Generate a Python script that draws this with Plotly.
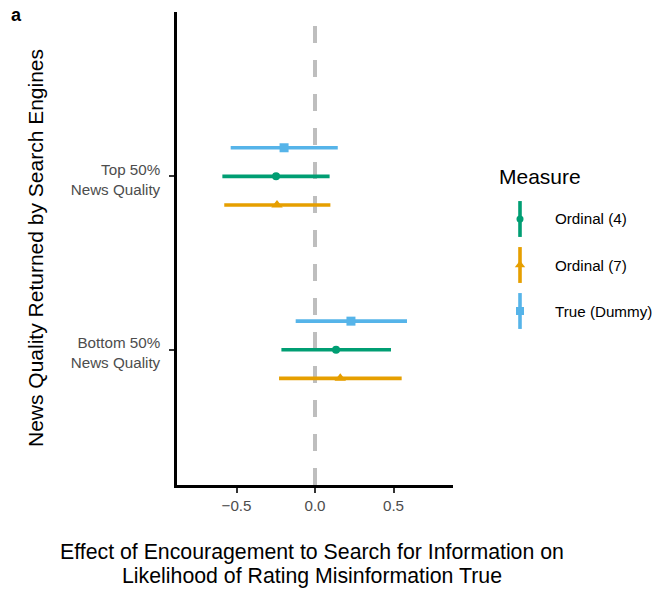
import plotly.graph_objects as go

categories = ["Bottom 50%<br>News Quality", "Top 50%<br>News Quality"]
measures = ["Ordinal (4)", "Ordinal (7)", "True (Dummy)"]
colors = ["#009E73", "#E69F00", "#56B4E9"]
symbols = ["circle", "triangle-up", "square"]
sizes = [8, 10, 9]
offsets = [0.0, -0.165, 0.165]

# estimates and CIs per measure: [Bottom, Top]
est = {
    "Ordinal (4)": [0.134, -0.248],
    "Ordinal (7)": [0.161, -0.242],
    "True (Dummy)": [0.229, -0.197],
}
low = {
    "Ordinal (4)": [-0.214, -0.590],
    "Ordinal (7)": [-0.229, -0.578],
    "True (Dummy)": [-0.123, -0.537],
}
high = {
    "Ordinal (4)": [0.484, 0.093],
    "Ordinal (7)": [0.552, 0.098],
    "True (Dummy)": [0.586, 0.145],
}

xticks = [-0.5, 0.0, 0.5]
xticklabels = ["\u22120.5", "0.0", "0.5"]

W, H = 656, 592
L, T, B = 177, 12, 485
R_PLOT = 453
PW = W - L  # paper width

def px(p):
    return (p - L) / PW

def py(p):
    return (B - p) / (B - T)

fig = go.Figure()
for m, c, s, sz, off in zip(measures, colors, symbols, sizes, offsets):
    ys = [i + 1 + off for i in range(len(categories))]
    fig.add_trace(go.Scatter(
        x=est[m], y=ys, mode="markers", xaxis="x", yaxis="y",
        marker=dict(color=c, symbol=s, size=sz, line=dict(width=0)),
        error_x=dict(type="data", symmetric=False,
                     array=[h - e for h, e in zip(high[m], est[m])],
                     arrayminus=[e - l for e, l in zip(est[m], low[m])],
                     color=c, thickness=3.6, width=0),
        showlegend=False,
    ))

# legend glyphs in a hidden auxiliary axis
leg_y = [3, 2, 1]
for m, c, s, sz, ly in zip(measures, colors, symbols, sizes, leg_y):
    fig.add_trace(go.Scatter(
        x=[0], y=[ly], mode="markers", xaxis="x2", yaxis="y2",
        marker=dict(color=c, symbol=s, size=sz - 1, line=dict(width=0)),
        error_y=dict(type="constant", value=0.39, color=c, thickness=3.6, width=0),
        showlegend=False, hoverinfo="skip",
    ))

fig.add_shape(type="line", xref="x", yref="y domain", x0=0, x1=0, y0=0, y1=1,
              line=dict(color="#BEBEBE", width=4, dash="17px,17px"), layer="below")

tickfont = dict(size=15.2, color="#4D4D4D")
fig.update_layout(
    width=W, height=H,
    margin=dict(l=L, r=0, t=T, b=H - B, autoexpand=False),
    plot_bgcolor="white", paper_bgcolor="white",
    font=dict(family="Liberation Sans, Arial, sans-serif", color="black"),
    xaxis=dict(domain=[0, px(R_PLOT)], range=[-0.879, 0.879],
               tickvals=xticks, ticktext=xticklabels, automargin=False,
               showgrid=False, zeroline=False, showline=True, linecolor="black",
               linewidth=2.5, ticks="outside", ticklen=5, tickwidth=1.5,
               tickcolor="#333333", tickfont=tickfont),
    yaxis=dict(domain=[0, 1], range=[0.22, 2.948], tickvals=[1, 2],
               ticktext=categories, automargin=False,
               showgrid=False, zeroline=False, showline=True, linecolor="black",
               linewidth=2.5, ticks="outside", ticklen=5, tickwidth=1.5,
               tickcolor="#333333", tickfont=tickfont,
               ticklabelstandoff=6, ticklabelshift=3),
    xaxis2=dict(domain=[px(505), px(535)], range=[-1, 1], visible=False,
                anchor="y2", showgrid=False, zeroline=False),
    yaxis2=dict(domain=[py(334), py(196)], range=[0.5, 3.5], visible=False,
                anchor="x2", showgrid=False, zeroline=False),
    showlegend=False,
)

fig.add_annotation(text="<b>a</b>", xref="paper", yref="paper", x=px(9), y=py(15),
                   xanchor="left", yanchor="middle", showarrow=False,
                   font=dict(size=18, color="black"))
fig.add_annotation(text="News Quality Returned by Search Engines", xref="paper",
                   yref="paper", x=px(35), y=py(248), textangle=-90,
                   xanchor="center", yanchor="middle", showarrow=False,
                   font=dict(size=21, color="black"))
xtitle_lines = ["Effect of Encouragement to Search for Information on",
                "Likelihood of Rating Misinformation True"]
for line, ly in zip(xtitle_lines, [552, 576]):
    fig.add_annotation(text=line, xref="paper", yref="paper", x=px(312), y=py(ly),
                       xanchor="center", yanchor="middle", showarrow=False,
                       font=dict(size=21.3, color="black"))
fig.add_annotation(text="Measure", xref="paper", yref="paper", x=px(497), y=py(177),
                   xanchor="left", yanchor="middle", showarrow=False,
                   font=dict(size=21, color="black"))
for m, ly in zip(measures, [219, 265, 311]):
    fig.add_annotation(text=m, xref="paper", yref="paper", x=px(553), y=py(ly),
                       xanchor="left", yanchor="middle", showarrow=False,
                       font=dict(size=15.2, color="black"))

fig.write_html("out.html", config={"displayModeBar": False},
               post_script="document.body.style.margin='0';")
